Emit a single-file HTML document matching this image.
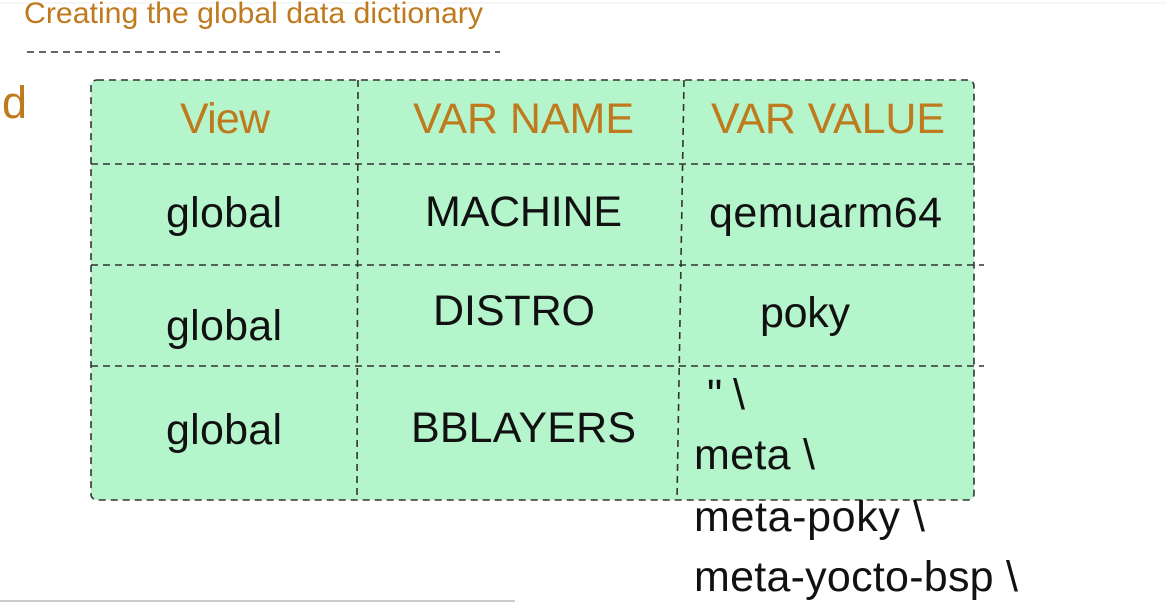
<!DOCTYPE html>
<html><head><style>
html,body{margin:0;padding:0;background:#fff;width:1166px;height:603px;overflow:hidden}
svg text{font-family:"Liberation Sans",sans-serif}
</style></head><body>
<svg width="1166" height="603" viewBox="0 0 1166 603" xmlns="http://www.w3.org/2000/svg">
<line x1="0" y1="3" x2="1166" y2="3" stroke="#eee" stroke-width="1"/>
<text x="24" y="23" font-size="30" fill="#c07a1e" textLength="459" lengthAdjust="spacingAndGlyphs">Creating the global data dictionary</text>
<line x1="27" y1="52" x2="500" y2="52" stroke="#333" stroke-width="1.6" stroke-dasharray="7,5"/>
<text x="2" y="118" font-size="45" fill="#c07a1e">d</text>
<rect x="91" y="80" width="883" height="420" rx="6" fill="#b5f5cb" stroke="#333" stroke-width="1.6" stroke-dasharray="7,5"/>
<g stroke="#333" stroke-width="1.6" stroke-dasharray="7,5">
<line x1="91" y1="164" x2="974" y2="164"/>
<line x1="91" y1="265" x2="984" y2="265"/>
<line x1="91" y1="366" x2="984" y2="366"/>
<line x1="358" y1="80" x2="357" y2="500"/>
<line x1="684" y1="80" x2="677" y2="500"/>
</g>
<g font-size="43" fill="#c07a1e" lengthAdjust="spacingAndGlyphs">
<text x="180" y="133" textLength="90">View</text>
<text x="413" y="133" textLength="221">VAR NAME</text>
<text x="711" y="133" textLength="234">VAR VALUE</text>
</g>
<g font-size="43" fill="#111" lengthAdjust="spacingAndGlyphs">
<text x="166" y="227" textLength="116">global</text>
<text x="425" y="226" textLength="197">MACHINE</text>
<text x="709" y="227" textLength="233">qemuarm64</text>
<text x="166" y="340" textLength="116">global</text>
<text x="433" y="325" textLength="162">DISTRO</text>
<text x="760" y="327" textLength="90">poky</text>
<text x="166" y="444" textLength="116">global</text>
<text x="411" y="442" textLength="225">BBLAYERS</text>
<text x="707" y="409" textLength="38">" \</text>
<text x="694" y="469" textLength="121">meta \</text>
<text x="694" y="531" textLength="231">meta-poky \</text>
<text x="694" y="591" textLength="324">meta-yocto-bsp \</text>
</g>
<line x1="0" y1="601" x2="515" y2="601" stroke="#ccc" stroke-width="2"/>
</svg>
</body></html>
